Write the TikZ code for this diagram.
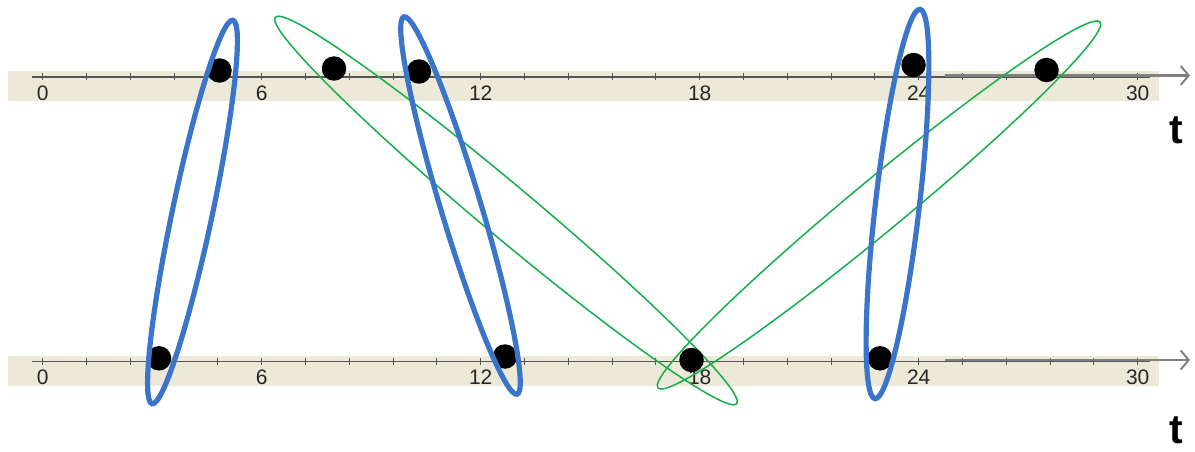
\documentclass[tikz,border=0pt]{standalone}
\usepackage{fontspec}
\setmainfont{Liberation Sans}
\usetikzlibrary{arrows.meta}
\definecolor{bandc}{HTML}{ECE9D8}
\definecolor{axisc}{HTML}{555555}
\definecolor{overc}{HTML}{808080}
\definecolor{bluec}{HTML}{3A75CA}
\definecolor{greenc}{HTML}{14AF48}
\tikzset{
  band/.style={fill=bandc, draw=none},
  axisline/.style={draw=axisc, line width=1.2pt},
  overline/.style={draw=overc, line width=2.2pt, -{Straight Barb[length=8pt,width=19pt,line width=2pt]}},
  tickmark/.style={draw=axisc, line width=0.9pt},
  ticklabel/.style={inner sep=0pt, font=\fontsize{21}{21}\selectfont, text=black!85},
  tlabel/.style={inner sep=0pt, font=\fontsize{41}{41}\selectfont\bfseries},
  dot/.style={circle, fill=black, minimum size=24.5pt, inner sep=0pt},
  blueell/.style={draw=bluec, line width=5.2pt},
  greenell/.style={draw=greenc, line width=1.5pt},
}
\begin{document}
\begin{tikzpicture}[x=1pt,y=-1pt]
\useasboundingbox (0,0) rectangle (1195,452);
% timelines
\foreach \ly/\nm in {77/top,361.5/bot}{
  \fill[band] (8,\ly-6) rectangle (1159,\ly+24);
  \draw[axisline] (31.5,\ly) -- (1150,\ly);
  \foreach \k in {0,...,25}{
    \draw[tickmark] ({42.7+43.8*\k},\ly-4) -- ({42.7+43.8*\k},\ly+3);
  }
  \foreach \v [count=\i from 0] in {0,6,12,18,24,30}{
    \node[ticklabel] (\nm lab\v) at ({42.7+219*\i},\ly+16) {\v};
  }
  \coordinate (\nm s) at (945,\ly-1.5);
  \coordinate (\nm e) at (1190,\ly-1.5);
  \draw[overline] (\nm s) -- (\nm e);
}
\node[tlabel] (ttop) at (1176.5,130) {t};
\node[tlabel] (tbot) at (1176.5,430) {t};
% green ellipses
\draw[greenell, rotate around={-39.95:(506,210.5)}] (506,210.5) ellipse [x radius=301, y radius=26];
\draw[greenell, rotate around={39.6:(879,205)}] (879,205) ellipse [x radius=287, y radius=26];
% dots
\node[dot] (a1) at (219.5,70.5) {};
\node[dot] (a2) at (334,68.5) {};
\node[dot] (a3) at (419,71.5) {};
\node[dot] (a4) at (913.5,65) {};
\node[dot] (a5) at (1046.5,70) {};
\node[dot] (b1) at (159,358.3) {};
\node[dot] (b2) at (505,356.5) {};
\node[dot] (b3) at (691.5,360) {};
\node[dot] (b4) at (880,358.3) {};
% blue ellipses
\draw[blueell, rotate around={78.1:(192.5,212)}] (192.5,212) ellipse [x radius=196, y radius=20];
\draw[blueell, rotate around={106.7:(460.5,205.5)}] (460.5,205.5) ellipse [x radius=197, y radius=20];
\draw[blueell, rotate around={83.4:(897.5,204)}] (897.5,204) ellipse [x radius=196, y radius=22];
\end{tikzpicture}
\end{document}
